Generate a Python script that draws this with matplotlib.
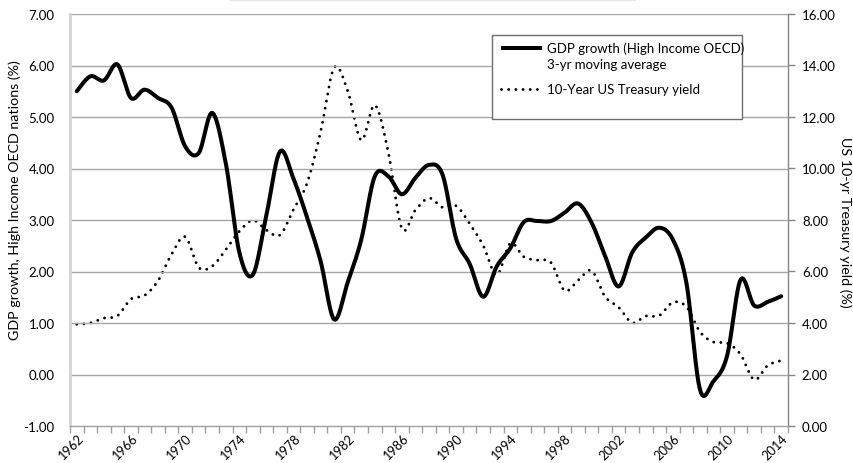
import numpy as np
import matplotlib
matplotlib.use("Agg")
import matplotlib.pyplot as plt
from matplotlib.lines import Line2D
from matplotlib.patches import Rectangle

plt.rcParams['font.family'] = ['Lato', 'DejaVu Sans']

# ---------------- data ----------------
years = list(range(1962, 2015))
gdp_growth_3yr = [5.50, 5.79, 5.71, 6.02, 5.37, 5.53, 5.37, 5.18, 4.43, 4.30,
                  5.08, 4.10, 2.37, 1.94, 3.10, 4.33, 3.80, 3.05, 2.20, 1.07,
                  1.79, 2.62, 3.85, 3.85, 3.50, 3.82, 4.07, 3.88, 2.64, 2.15,
                  1.51, 2.10, 2.45, 2.96, 2.98, 2.98, 3.14, 3.32, 2.95, 2.30,
                  1.71, 2.37, 2.66, 2.85, 2.62, 1.78, -0.29, -0.13, 0.36, 1.84,
                  1.34, 1.41, 1.52]
treasury_10yr = [3.95, 4.00, 4.19, 4.28, 4.93, 5.07, 5.64, 6.67, 7.35, 6.16,
                 6.21, 6.85, 7.56, 7.99, 7.61, 7.42, 8.41, 9.43, 11.43, 13.92,
                 13.01, 11.10, 12.46, 10.62, 7.67, 8.39, 8.85, 8.49, 8.55, 7.86,
                 7.01, 5.87, 7.09, 6.57, 6.44, 6.35, 5.26, 5.65, 6.03, 5.02,
                 4.61, 4.01, 4.27, 4.29, 4.80, 4.63, 3.66, 3.26, 3.22, 2.78,
                 1.80, 2.35, 2.54]
xtick_labels = [str(y) for y in years[::4]]

left_label = "GDP growth, High Income OECD nations (%)"
right_label = "US 10-yr Treasury yield (%)"
legend_gdp = ["GDP growth (High Income OECD)", "3-yr moving average"]
legend_tsy = "10-Year US Treasury yield"


def smooth(xs, ys, n=24):
    """Excel-style smoothed line (Catmull-Rom as cubic Bezier)."""
    xs = np.asarray(xs, float)
    ys = np.asarray(ys, float)
    P = np.column_stack([xs, ys])
    out = []
    m = len(P)
    t = np.linspace(0, 1, n, endpoint=False)[:, None]
    for i in range(m - 1):
        p0 = P[i - 1] if i > 0 else P[i]
        p1 = P[i]
        p2 = P[i + 1]
        p3 = P[i + 2] if i + 2 < m else P[i + 1]
        b1 = p1 + (p2 - p0) / 6.0
        b2 = p2 - (p3 - p1) / 6.0
        seg = ((1 - t) ** 3) * p1 + 3 * ((1 - t) ** 2) * t * b1 + 3 * (1 - t) * t ** 2 * b2 + t ** 3 * p2
        out.append(seg)
    out.append(P[-1][None, :])
    out = np.vstack(out)
    return out[:, 0], out[:, 1]


W, H = 854, 464
fig = plt.figure(figsize=(W / 100, H / 100), dpi=100)
L, R, T, B = 70, 788, 15, 427
ax = fig.add_axes([L / W, 1 - B / H, (R - L) / W, (B - T) / H])
ax2 = ax.twinx()

xpos = np.arange(len(years))

# grid
grid_col = '#a6a6a6'
ax.set_ylim(-1, 7)
ax.set_yticks(np.arange(-1, 7.01, 1))
ax.set_yticklabels([f"{v:.2f}" for v in np.arange(-1, 7.01, 1)])
for v in np.arange(0, 7.01, 1):
    ax.axhline(v, color=grid_col, lw=1.0, zorder=0)

ax.set_xlim(-0.5, len(years) - 0.5)
ax.set_xticks(xpos[::4])
ax.set_xticklabels(xtick_labels, rotation=45, ha='right', va='top',
                   rotation_mode='anchor', fontsize=9.2)
ax.set_xticks(np.arange(-0.5, len(years), 1), minor=True)
ax.tick_params(axis='x', which='major', length=0, pad=4)
ax.tick_params(axis='x', which='minor', length=5, color='#a0a0a0', width=1, direction='out')
ax.tick_params(axis='y', length=0, pad=11, labelsize=9.5)

ax2.set_ylim(0, 16)
ax2.set_yticks(np.arange(0, 16.01, 2))
ax2.set_yticklabels([f"{v:.2f}" for v in np.arange(0, 16.01, 2)])
ax2.tick_params(axis='y', length=5, color='#868686', width=1, pad=5, labelsize=9.5)

for a in (ax, ax2):
    a.spines['top'].set_visible(False)
ax.spines['left'].set_color('#d4d4d4')
ax.spines['left'].set_linewidth(2)
ax.spines['bottom'].set_color('#a0a0a0')
ax.spines['bottom'].set_linewidth(1)
ax.spines['right'].set_visible(False)
ax2.spines['left'].set_visible(False)
ax2.spines['bottom'].set_visible(False)
ax2.spines['right'].set_color('#868686')
ax2.spines['right'].set_linewidth(1)

# lines
DOT = (0, (0.01, 2.45))
sx, sy = smooth(xpos, gdp_growth_3yr)
ax.plot(sx, sy, color='black', lw=2.9, solid_capstyle='round',
        solid_joinstyle='round', zorder=3)
tx, ty = smooth(xpos, treasury_10yr)
ax2.plot(tx, ty, color='black', lw=2.1, linestyle=DOT,
         dash_capstyle='round', zorder=3)
ax.set_zorder(ax2.get_zorder() + 1)
ax.patch.set_visible(False)

ax.set_ylabel(left_label, fontsize=10.3, va='center')
ax.yaxis.set_label_coords((15 - L) / (R - L), (B - 200) / (B - T))
ax2.set_ylabel(right_label, fontsize=10.3, rotation=270, va='center')
ax2.yaxis.set_label_coords((845 - L) / (R - L), (B - 222) / (B - T))

# legend (Excel-style box)
def fx(x):
    return x / W

def fy(y):
    return 1 - y / H

fig.add_artist(Rectangle((fx(492), fy(120)), fx(742) - fx(492), fy(36) - fy(120),
                         transform=fig.transFigure, facecolor='white',
                         edgecolor='#6e6e6e', lw=1.0, zorder=10))
fig.add_artist(Line2D([fx(501), fx(542)], [fy(49), fy(49)], transform=fig.transFigure,
                      color='black', lw=2.9, solid_capstyle='butt', zorder=11))
fig.add_artist(Line2D([fx(501), fx(537)], [fy(90), fy(90)], transform=fig.transFigure,
                      color='black', lw=2.1, linestyle=DOT,
                      dash_capstyle='round', zorder=11))
fig.text(fx(547), fy(49), legend_gdp[0], fontsize=9.5, va='center', ha='left', zorder=12)
fig.text(fx(547), fy(65), legend_gdp[1], fontsize=9.5, va='center', ha='left', zorder=12)
fig.text(fx(547), fy(90), legend_tsy, fontsize=9.5, va='center', ha='left', zorder=12)

# faint top line
fig.add_artist(Line2D([fx(230), fx(635)], [fy(1), fy(1)], transform=fig.transFigure,
                      color='#e6e6e6', lw=1.0))

fig.savefig("out.png", dpi=100)
